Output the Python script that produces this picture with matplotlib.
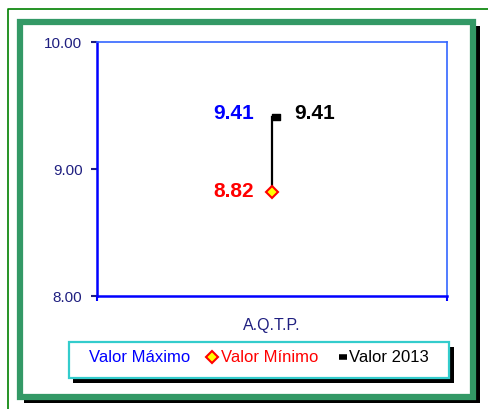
import matplotlib
matplotlib.use("Agg")
import matplotlib.pyplot as plt
from matplotlib.patches import Rectangle
from matplotlib.lines import Line2D
from matplotlib.path import Path

plt.rcParams['font.family'] = ['Liberation Sans', 'DejaVu Sans']

categories = ['A.Q.T.P.']
valor_maximo = [9.41]
valor_minimo = [8.82]
valor_2013 = [9.41]
y_ticks = [8.0, 9.0, 10.0]
legend_labels = ['Valor Máximo', 'Valor Mínimo', 'Valor 2013']

W, H = 488, 410
fig = plt.figure(figsize=(W / 100, H / 100), dpi=100)


def fx(x):
    return x / W


def fy(y):
    return 1 - y / H


def frame(x0, y0, x1, y1, **kw):
    # rectangle given in pixel coords (top-left origin)
    return Rectangle((fx(x0), fy(y1)), fx(x1) - fx(x0), fy(y0) - fy(y1),
                     transform=fig.transFigure, **kw)


# outer thin green line
fig.add_artist(Line2D([fx(8), fx(8), fx(488)], [fy(410), fy(10), fy(10)],
                      transform=fig.transFigure, color='#008000', lw=1.2, zorder=-3))
# green frame with black shadow
fig.add_artist(frame(24, 27, 480, 404, facecolor='black', edgecolor='none', zorder=-3))
fig.add_artist(frame(20, 23, 473, 398, facecolor='white', edgecolor='#339966', lw=4.5, zorder=-2))

ax = fig.add_axes([fx(97), fy(297), fx(447) - fx(97), fy(43) - fy(297)])
ax.set_facecolor('none')

x = list(range(1, len(categories) + 1))

# high-low line
for xi, lo, hi in zip(x, valor_minimo, valor_maximo):
    ax.plot([xi, xi], [lo, hi], color='black', lw=1.6, zorder=2)

half_square = Path([(0, -0.42), (1, -0.42), (1, 0.42), (0, 0.42), (0, -0.42)],
                   [Path.MOVETO, Path.LINETO, Path.LINETO, Path.LINETO, Path.CLOSEPOLY])
ax.plot(x, valor_2013, linestyle='none', marker=half_square, markersize=11.5,
        color='black', zorder=3)
ax.plot(x, valor_minimo, linestyle='none', marker='D', markersize=6.5,
        markerfacecolor='#ffff00', markeredgecolor='#ff0000', markeredgewidth=1.5, zorder=4)

for xi, v in zip(x, valor_maximo):
    ax.annotate(f'{v:.2f}', (xi, v), xytext=(-13, 3), textcoords='offset points',
                ha='right', va='center', color='#0000ff', fontsize=15, fontweight='bold')
for xi, v in zip(x, valor_2013):
    ax.annotate(f'{v:.2f}', (xi, v), xytext=(16, 3), textcoords='offset points',
                ha='left', va='center', color='black', fontsize=15, fontweight='bold')
for xi, v in zip(x, valor_minimo):
    ax.annotate(f'{v:.2f}', (xi, v), xytext=(-13, 1), textcoords='offset points',
                ha='right', va='center', color='#ff0000', fontsize=15, fontweight='bold')

ax.set_xlim(0.5, len(categories) + 0.5)
ax.set_ylim(8, 10)
ax.set_yticks(y_ticks)
ax.set_yticklabels([f'{t:.2f}' for t in y_ticks])
ax.set_xticks(x)
ax.set_xticklabels(categories)
ax.set_xticks([0.5, len(categories) + 0.5], minor=True)

navy = '#1f1f80'
ax.tick_params(axis='y', direction='out', length=4.5, width=1.5, color=navy,
               labelcolor=navy, labelsize=11, pad=6)
ax.tick_params(axis='x', which='major', length=0, labelcolor=navy, labelsize=11.5, pad=15)
ax.tick_params(axis='x', which='minor', direction='out', length=3.5, width=1.5, color='#0000ff')

for s in ['left', 'bottom']:
    ax.spines[s].set_color('#0000ff')
    ax.spines[s].set_linewidth(1.8)
for s in ['top', 'right']:
    ax.spines[s].set_color('#3366ff')
    ax.spines[s].set_linewidth(1.2)

# legend box with shadow
fig.add_artist(frame(73, 348, 454, 384, facecolor='black', edgecolor='none', zorder=-1))
fig.add_artist(frame(69, 343, 449, 379, facecolor='white', edgecolor='#33cccc', lw=1.6, zorder=-0.5))

ly = fy(358)
fig.text(fx(89), ly, legend_labels[0], color='#0000ff', fontsize=12, va='center', ha='left')
fig.add_artist(Line2D([fx(212)], [ly], transform=fig.transFigure, marker='D', markersize=6.5,
                      markerfacecolor='#ffff00', markeredgecolor='#ff0000', markeredgewidth=1.5))
fig.text(fx(221), ly, legend_labels[1], color='#ff0000', fontsize=12, va='center', ha='left')
fig.add_artist(Line2D([fx(339), fx(347)], [ly, ly], transform=fig.transFigure,
                      color='black', lw=4, solid_capstyle='butt'))
fig.text(fx(349), ly, legend_labels[2], color='black', fontsize=12, va='center', ha='left')

fig.savefig('out.png', dpi=100)
